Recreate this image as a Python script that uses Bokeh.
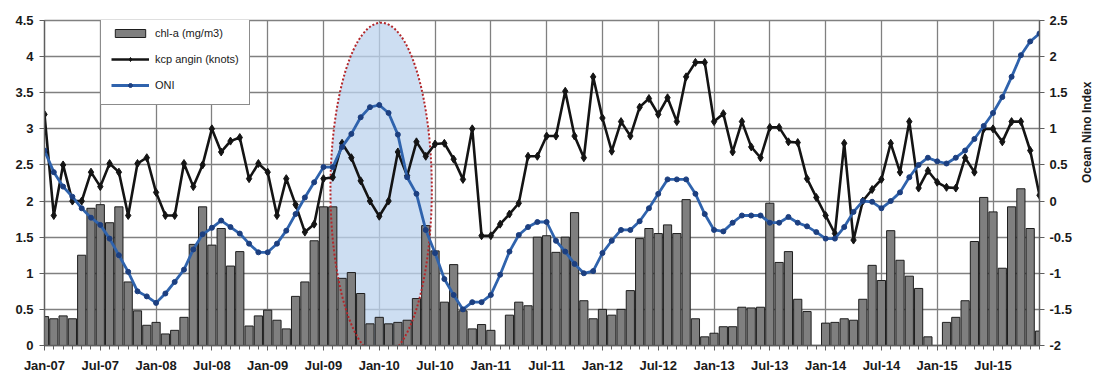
import math
import numpy as np
from bokeh.plotting import figure
from bokeh.models import (Range1d, LinearAxis, FixedTicker, NumeralTickFormatter,
                          Legend, LegendItem, ColumnDataSource)
from bokeh.embed import file_html
from bokeh.resources import INLINE

# Monthly series, Jan-2007 .. Dec-2015 (index 0 = Jan-07); None = no data
tick_labels = ["Jan-07", "Jul-07", "Jan-08", "Jul-08", "Jan-09", "Jul-09",
               "Jan-10", "Jul-10", "Jan-11", "Jul-11", "Jan-12", "Jul-12",
               "Jan-13", "Jul-13", "Jan-14", "Jul-14", "Jan-15", "Jul-15"]

chl_a = [0.40, 0.37, 0.41, 0.37, 1.25, 1.90, 1.95, 1.70, 1.92, 0.88, 0.48, 0.28,
         0.32, 0.16, 0.21, 0.39, 1.40, 1.92, 1.39, 1.62, 1.10, 1.30, 0.27, 0.41,
         0.49, 0.35, 0.23, 0.68, 0.88, 1.45, 1.92, 1.92, 0.93, 1.01, 0.72, 0.30,
         0.39, 0.30, 0.32, 0.35, 0.65, 1.66, 1.31, 0.60, 1.12, 0.48, 0.23, 0.29,
         0.21, None, 0.42, 0.60, 0.55, 1.50, 1.52, 1.29, 1.50, 1.84, 0.62, 0.37,
         0.50, 0.42, 0.50, 0.76, 1.48, 1.62, 1.55, 1.67, 1.55, 2.02, 0.37, 0.12,
         0.17, 0.26, 0.26, 0.53, 0.52, 0.53, 1.97, 1.15, 1.30, 0.64, 0.47, None,
         0.31, 0.32, 0.37, 0.35, 0.64, 1.11, 0.90, 1.59, 1.18, 0.96, 0.79, 0.12,
         None, 0.32, 0.39, 0.62, 1.44, 2.05, 1.85, 1.07, 1.92, 2.17, 1.62, 0.20]

kcp_angin = [3.20, 1.80, 2.50, 2.00, 2.00, 2.40, 2.20, 2.52, 2.40, 1.80, 2.52, 2.60,
             2.12, 1.80, 1.80, 2.52, 2.20, 2.50, 3.00, 2.68, 2.83, 2.88, 2.31, 2.52,
             2.40, 1.80, 2.31, 1.95, 1.57, 1.68, 2.31, 2.33, 2.80, 2.60, 2.28, 2.00,
             1.79, 2.00, 2.68, 2.35, 2.82, 2.62, 2.79, 2.80, 2.58, 2.30, 3.00, 1.52,
             1.52, 1.68, 1.82, 1.97, 2.62, 2.62, 2.90, 2.90, 3.52, 2.90, 2.60, 3.72,
             3.15, 2.69, 3.10, 2.90, 3.30, 3.42, 3.20, 3.43, 3.10, 3.72, 3.92, 3.92,
             3.10, 3.21, 2.68, 3.10, 2.75, 2.60, 3.02, 3.02, 2.82, 2.81, 2.31, 2.05,
             1.80, 1.55, 2.80, 1.46, 2.00, 2.16, 2.30, 2.80, 2.40, 3.10, 2.18, 2.42,
             2.26, 2.19, 2.18, 2.60, 2.40, 3.00, 3.00, 2.82, 3.10, 3.10, 2.70, 2.08]

oni = [0.70, 0.40, 0.20, 0.06, -0.10, -0.23, -0.33, -0.52, -0.75, -0.98, -1.25, -1.32,
       -1.41, -1.28, -1.12, -0.95, -0.67, -0.46, -0.37, -0.27, -0.36, -0.45, -0.59, -0.71,
       -0.71, -0.59, -0.41, -0.18, 0.05, 0.26, 0.47, 0.47, 0.75, 0.93, 1.16, 1.30,
       1.33, 1.22, 0.92, 0.33, 0.10, -0.40, -0.72, -1.08, -1.30, -1.50, -1.40, -1.40,
       -1.30, -1.02, -0.70, -0.47, -0.36, -0.29, -0.29, -0.55, -0.70, -0.87, -1.00, -0.97,
       -0.72, -0.55, -0.40, -0.40, -0.28, -0.10, 0.10, 0.30, 0.30, 0.30, 0.10, -0.18,
       -0.40, -0.42, -0.30, -0.20, -0.20, -0.20, -0.30, -0.30, -0.22, -0.30, -0.35, -0.43,
       -0.52, -0.52, -0.36, -0.15, 0.00, -0.01, -0.10, 0.00, 0.12, 0.33, 0.50, 0.60,
       0.55, 0.52, 0.60, 0.70, 0.86, 1.04, 1.22, 1.44, 1.72, 2.02, 2.21, 2.32]

months = list(range(len(kcp_angin)))
label_months = months[::6]

FONT = "Liberation Sans"
TEXT = "#1a1a1a"
GRID = "#808080"

p = figure(width=1103, height=380, output_backend="svg", toolbar_location=None,
           x_range=Range1d(0, months[-1]), y_range=Range1d(0, 4.5),
           min_border_left=44, min_border_right=60, min_border_top=20,
           min_border_bottom=35)
p.extra_y_ranges = {"oni": Range1d(-2, 2.5)}
p.background_fill_color = "white"
p.border_fill_color = "white"
p.outline_line_color = GRID
p.outline_line_width = 1.3

# bottom (month) axis
xa = p.xaxis[0]
xa.ticker = FixedTicker(ticks=label_months, minor_ticks=months)
xa.major_label_overrides = {m: t for m, t in zip(label_months, tick_labels)}
# left axis
ya = p.yaxis[0]
ya.ticker = FixedTicker(ticks=[i * 0.5 for i in range(10)])
ya.formatter = NumeralTickFormatter(format="0.[0]")
# right axis
ra = LinearAxis(y_range_name="oni", axis_label="Ocean Nino Index",
                ticker=FixedTicker(ticks=[-2 + i * 0.5 for i in range(10)]),
                formatter=NumeralTickFormatter(format="0.[0]"))
p.add_layout(ra, "right")

for ax in (xa, ya, ra):
    ax.axis_line_color = "#5e5e5e"
    ax.axis_line_width = 1.3
    ax.major_tick_line_color = "#5e5e5e"
    ax.major_tick_in = 0
    ax.major_tick_out = 5
    ax.major_label_text_font = FONT
    ax.major_label_text_font_style = "bold"
    ax.major_label_text_font_size = "13px"
    ax.major_label_text_color = TEXT
for ax in (ya, ra):
    ax.minor_tick_line_color = None
ya.major_label_standoff = 6
ra.major_label_standoff = 5
xa.minor_tick_line_color = "#5e5e5e"
xa.minor_tick_in = 0
xa.minor_tick_out = 4
xa.major_label_standoff = 7
ra.axis_label_text_font = FONT
ra.axis_label_text_font_style = "bold"
ra.axis_label_text_font_size = "12px"
ra.axis_label_text_color = TEXT
ra.axis_label_standoff = 12
ra.axis_label_orientation = math.pi / 2

p.xgrid.ticker = FixedTicker(ticks=label_months)
for g in (p.xgrid[0], p.ygrid[0]):
    g.grid_line_color = GRID
    g.grid_line_width = 1.3

# highlighted El Nino 2009/10 period
ell = dict(x=36.2, y=2.16, width=10.9, height=4.62)
p.ellipse(**ell, fill_color="#bcd3ee", fill_alpha=0.75, line_color=None)

bar_src = ColumnDataSource(dict(
    x=[m for m, v in zip(months, chl_a) if v is not None],
    top=[v for v in chl_a if v is not None]))
bars = p.vbar(x="x", top="top", bottom=0, width=0.88, source=bar_src,
              fill_color="#7f7f7f", line_color="#1e1e1e", line_width=1)

p.ellipse(**ell, fill_color=None, line_color="#b3262a", line_width=2,
          line_dash="2 2")

kcp_line = p.line(months, kcp_angin, line_color="#141414", line_width=2.6)
kcp_pts = p.scatter(months, kcp_angin, marker="diamond", size=8,
                    fill_color="#141414", line_color="#141414")

oni_line = p.line(months, oni, line_color="#2f63ad", line_width=2.8,
                  y_range_name="oni")
oni_pts = p.scatter(months, oni, marker="circle", size=5, y_range_name="oni",
                    fill_color="#1c3f80", line_color="#1c3f80")

legend = Legend(items=[
    LegendItem(label="chl-a (mg/m3)", renderers=[bars]),
    LegendItem(label="kcp angin (knots)", renderers=[kcp_line, kcp_pts]),
    LegendItem(label="ONI", renderers=[oni_line, oni_pts]),
], location=(56, 240))
legend.border_line_color = "#1a1a1a"
legend.border_line_width = 1.2
legend.background_fill_color = "white"
legend.background_fill_alpha = 1
legend.label_text_font = FONT
legend.label_text_font_size = "11px"
legend.label_text_color = TEXT
legend.glyph_width = 38
legend.glyph_height = 10
legend.label_height = 18
legend.spacing = 8
legend.padding = 10
legend.label_standoff = 6
legend.margin = 0
p.add_layout(legend)

open("out.html", "w").write(file_html(p, INLINE))
